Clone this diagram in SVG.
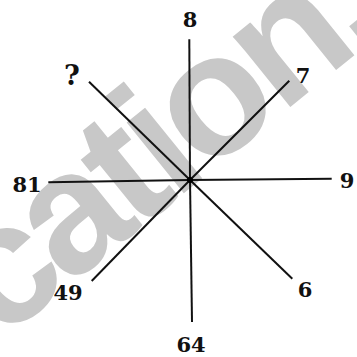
<svg xmlns="http://www.w3.org/2000/svg" width="357" height="357" viewBox="0 0 357 357">
<style>
.lbl{font-family:"DejaVu Serif","Liberation Serif",serif;font-size:21px;font-weight:bold;fill:#111;text-anchor:middle}
.ray{stroke:#111;stroke-width:2;stroke-linecap:butt}
.wm{font-family:"Liberation Sans",Arial,sans-serif;font-weight:bold;font-size:172px;letter-spacing:-8px;fill:#c8c8c8}
</style>
<rect width="357" height="357" fill="#fff"/>
<text class="wm" x="0" y="342" transform="rotate(-39 0 342)">cation.</text>
<g id="connectors">
<line class="ray" x1="189.3" y1="39.3" x2="190" y2="180"/>
<line class="ray" x1="192" y1="322" x2="190" y2="180"/>
<line class="ray" x1="48.3" y1="182.3" x2="190" y2="180"/>
<line class="ray" x1="331.7" y1="178.7" x2="190" y2="180"/>
<line class="ray" x1="89" y1="81.7" x2="190" y2="180"/>
<line class="ray" x1="289.3" y1="80.7" x2="190" y2="180"/>
<line class="ray" x1="91.7" y1="281" x2="190" y2="180"/>
<line class="ray" x1="292.3" y1="278.7" x2="190" y2="180"/>
</g>
<g id="center"><circle cx="190" cy="180" r="3" fill="#000"/></g>
<g id="n8"><text class="lbl" x="190" y="27">8</text></g>
<g id="nq"><text class="lbl" x="72" y="85" style="font-size:27px">?</text></g>
<g id="n7"><text class="lbl" x="303" y="83">7</text></g>
<g id="n81"><text class="lbl" x="27" y="192">81</text></g>
<g id="n9"><text class="lbl" x="347" y="188">9</text></g>
<g id="n49"><text class="lbl" x="68" y="300">49</text></g>
<g id="n6"><text class="lbl" x="305" y="297">6</text></g>
<g id="n64"><text class="lbl" x="191" y="352">64</text></g>
</svg>
